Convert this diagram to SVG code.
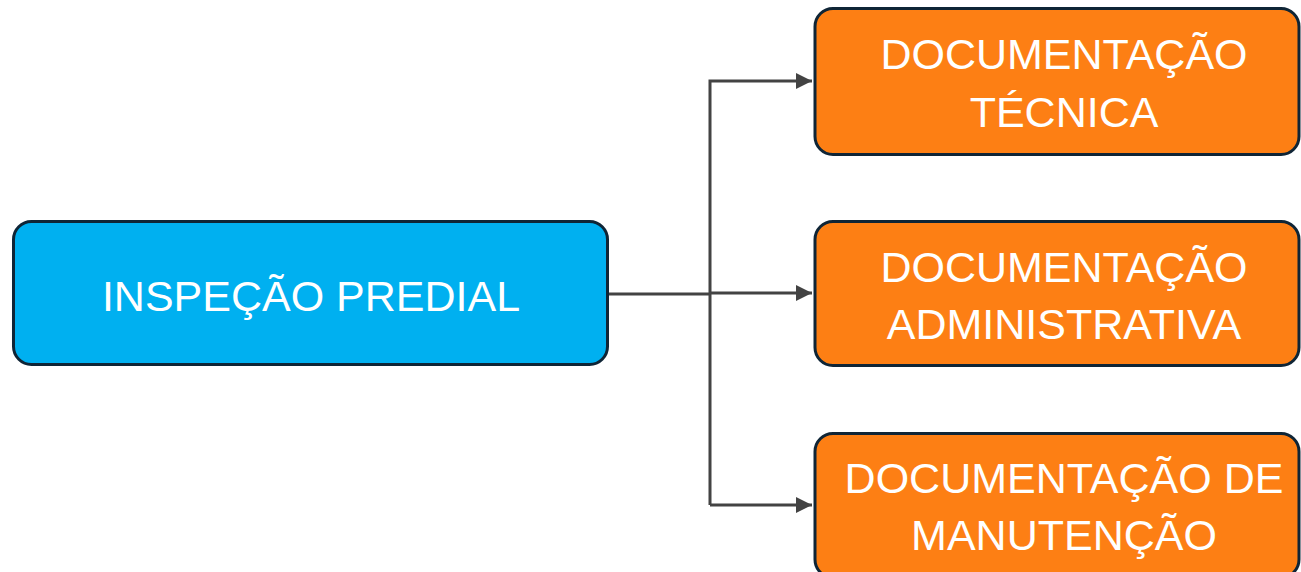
<svg xmlns="http://www.w3.org/2000/svg" width="1301" height="572" viewBox="0 0 1301 572">
<style>
.box{stroke:#0f2536;stroke-width:3}
.blue{fill:#00b0f0}
.orange{fill:#fd7f14}
.t{font-family:"Liberation Sans",Arial,sans-serif;font-size:43px;fill:#ffffff;text-anchor:middle}
.c{fill:none;stroke:#434343;stroke-width:3}
</style>
<defs>
<marker id="ah" markerWidth="5.5" markerHeight="5.5" refX="5.5" refY="2.75" orient="auto" markerUnits="strokeWidth">
<path d="M0,0 L5.5,2.75 L0,5.5 z" fill="#434343"/>
</marker>
</defs>
<rect width="1301" height="572" fill="#ffffff"/>
<g id="connectors">
<path class="c" d="M607,294 H710"/>
<path class="c" d="M710,505 V81 H812" marker-end="url(#ah)"/>
<path class="c" d="M710,293 H812" marker-end="url(#ah)"/>
<path class="c" d="M710,505 H812" marker-end="url(#ah)"/>
</g>
<g id="inspecao">
<rect class="box blue" x="13.5" y="221.5" width="594" height="143" rx="18"/>
<text class="t" x="311" y="311">INSPEÇÃO PREDIAL</text>
</g>
<g id="doc-tecnica">
<rect class="box orange" x="815" y="8.5" width="484" height="146" rx="18"/>
<text class="t" x="1064" y="69">DOCUMENTAÇÃO</text>
<text class="t" x="1064" y="127">TÉCNICA</text>
</g>
<g id="doc-administrativa">
<rect class="box orange" x="815" y="221.5" width="484" height="144" rx="18"/>
<text class="t" x="1064" y="282">DOCUMENTAÇÃO</text>
<text class="t" x="1064" y="339">ADMINISTRATIVA</text>
</g>
<g id="doc-manutencao">
<rect class="box orange" x="815" y="433.5" width="484" height="144" rx="18"/>
<text class="t" x="1064" y="493">DOCUMENTAÇÃO DE</text>
<text class="t" x="1064" y="550">MANUTENÇÃO</text>
</g>
</svg>
